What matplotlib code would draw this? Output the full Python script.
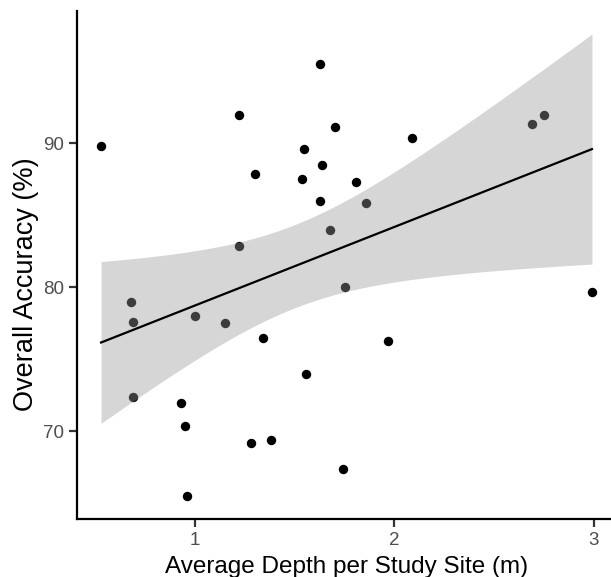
import numpy as np
import matplotlib
matplotlib.use("Agg")
import matplotlib.pyplot as plt

plt.rcParams['font.family'] = ['Liberation Sans', 'DejaVu Sans']

# average depth per study site (m)
depth = [0.528, 1.219, 1.300, 1.219, 1.629, 1.700, 2.090, 1.549,
         1.639, 1.539, 1.810, 1.629, 1.859, 1.679, 0.679, 0.689,
         1.000, 1.149, 1.341, 0.689, 0.930, 0.948, 1.280, 0.958,
         1.380, 1.559, 1.750, 1.969, 1.740, 2.691, 2.751, 2.992]
# overall accuracy (%)
accuracy = [89.79, 92.01, 87.89, 82.90, 95.50, 91.11, 90.39, 89.60,
            88.50, 87.50, 87.30, 86.00, 85.88, 83.99, 79.00, 77.59,
            77.97, 77.49, 76.48, 72.36, 71.97, 70.37, 69.17, 65.47,
            69.36, 73.95, 79.99, 76.27, 67.34, 91.32, 92.01, 79.69]

xticks = [1, 2, 3]
yticks = [70, 80, 90]

x = np.array(depth)
y = np.array(accuracy)
n = len(x)

# linear fit with 95% confidence band (like geom_smooth(method = "lm"))
slope, intercept = np.polyfit(x, y, 1)
xs = np.linspace(x.min(), x.max(), 80)
fit = intercept + slope * xs
resid = y - (intercept + slope * x)
s = np.sqrt(np.sum(resid ** 2) / (n - 2))
sxx = np.sum((x - x.mean()) ** 2)
t_crit = 2.042  # t quantile 0.975, df = 30
se = s * np.sqrt(1 / n + (xs - x.mean()) ** 2 / sxx)
lo = fit - t_crit * se
hi = fit + t_crit * se

fig = plt.figure(figsize=(6.11, 5.77), dpi=100)
ax = fig.add_axes([76.5 / 611, 57.7 / 577, 540 / 611, 508.3 / 577])

ax.scatter(x, y, s=46, color='black', linewidths=0, zorder=2)
ax.fill_between(xs, lo, hi, color='#999999', alpha=0.4, linewidth=0, zorder=3)
ax.plot(xs, fit, color='black', lw=1.6, zorder=4)

# ggplot-style 5% expansion
xr = x.max() - x.min()
ax.set_xlim(x.min() - 0.05 * xr, x.max() + 0.05 * xr)
ymin = min(y.min(), lo.min())
ymax = max(y.max(), hi.max())
yr = ymax - ymin
ax.set_ylim(ymin - 0.05 * yr, ymax + 0.05 * yr)

ax.set_xticks(xticks)
ax.set_yticks(yticks)

for side in ['top', 'right']:
    ax.spines[side].set_visible(False)
for side in ['left', 'bottom']:
    ax.spines[side].set_linewidth(1.6)
    ax.spines[side].set_color('black')

ax.tick_params(length=5.5, width=1.6, color='#333333', labelcolor='#4D4D4D',
               labelsize=13.5, pad=3.5)

ax.set_xlabel('Average Depth per Study Site (m)', fontsize=17.5, color='black')
ax.set_ylabel('Overall Accuracy (%)', fontsize=19.5, color='black')
ax.xaxis.label.set_va('baseline')
ax.xaxis.set_label_coords(0.5, -(573 - 519.3) / 508.3)
ax.yaxis.label.set_va('baseline')
ax.yaxis.set_label_coords((33 - 76.5) / 540, (519.3 - 284) / 508.3)

fig.savefig('out.png', dpi=100)
